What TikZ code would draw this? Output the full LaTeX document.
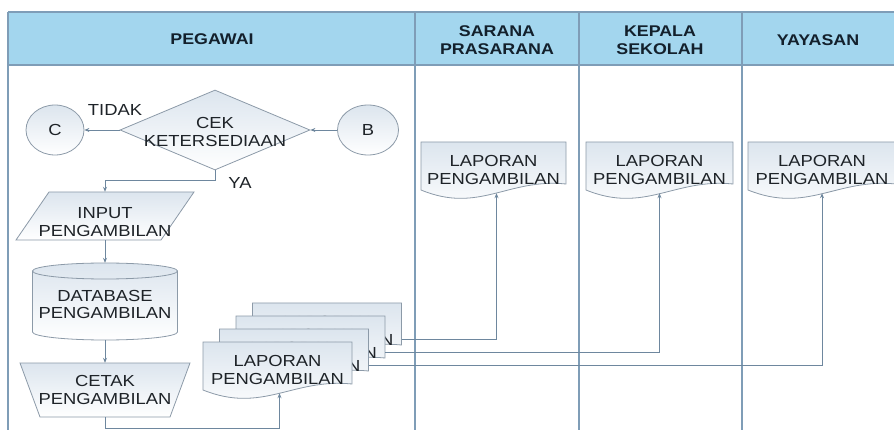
\documentclass[tikz,border=0pt]{standalone}
\usepackage{fontspec}
\setmainfont{Liberation Sans}[FakeStretch=1.15]
\usepackage{tikz}
\usetikzlibrary{shapes.geometric, arrows.meta, calc, positioning}

\definecolor{headblue}{HTML}{A3D6EE}
\definecolor{laneline}{HTML}{7F9DB7}
\definecolor{shapeline}{HTML}{8C9AA8}
\definecolor{shapetop}{HTML}{DCE5EE}
\definecolor{flowline}{HTML}{6E879E}
\definecolor{txt}{HTML}{1E2328}
\definecolor{headtxt}{HTML}{13202C}

% document symbol: name, top left corner, width
\newcommand{\laporandoc}[3]{%
  \path[doc shape,shift={(#2)}] (0,0) -- (#3,0) -- (#3,42)
    .. controls (0.6*#3,36) and (0.4*#3,72) .. (0,48) -- cycle;
  \node[holder,minimum width=#3pt,minimum height=48pt,
        label={[body text,yshift=-4pt]center:LAPORAN\\PENGAMBILAN}]
    (#1) at ($(#2)+(0.5*#3,24)$) {};
}

\begin{document}
\begin{tikzpicture}[x=1pt,y=-1pt,
                    lane head/.style={font=\fontsize{15.5}{18.5}\selectfont\bfseries,text=headtxt,align=center},
                    body text/.style={font=\fontsize{16}{17.5}\selectfont,text=txt,align=center},
                    shape box/.style={draw=shapeline,line width=0.8pt,top color=shapetop,bottom color=white},
                    doc shape/.style={shape box},
                    holder/.style={rectangle,inner sep=0pt},
                    connector/.style={ellipse,shape box,body text,inner sep=0pt,minimum width=58pt,minimum height=50pt},
                    decision/.style={diamond,shape box,inner sep=0pt,minimum width=190pt,minimum height=80pt},
                    flow/.style={draw=flowline,line width=0.9pt,-{Stealth[length=5pt,width=4pt]}},
                    lane/.style={draw=laneline,line width=1.3pt}]

  \useasboundingbox (0,0) rectangle (894,430);

  % swimlanes
  \fill[headblue] (8,12) rectangle (900,65);
  \draw[lane] (8,12) -- (900,12);
  \draw[lane,line width=1.6pt] (8,65) -- (900,65);
  \draw[lane] (8,12) -- (8,440);
  \draw[lane] (415,12) -- (415,440);
  \draw[lane] (579,12) -- (579,440);
  \draw[lane] (742,12) -- (742,440);

  \node[lane head] (pegawai) at (212,39) {PEGAWAI};
  \node[lane head] (sarana) at (497,40) {SARANA\\PRASARANA};
  \node[lane head] (kepala) at (660,40) {KEPALA\\SEKOLAH};
  \node[lane head] (yayasan) at (818,40) {YAYASAN};

  % pegawai
  \node[connector] (c) at (55,130) {C};
  \node[connector,minimum width=61pt] (b) at (368,130) {B};
  \node[decision,label={[body text,yshift=-2pt]center:CEK\\KETERSEDIAAN}] (cek) at (215,130) {};

  \node[body text] (tidak) at (115,110) {TIDAK};
  \node[body text] (ya) at (240,183) {YA};

  \path[shape box] (49,192) -- (194,192) -- (161,240) -- (16,240) -- cycle;
  \node[holder,minimum width=178pt,minimum height=48pt,
        label={[body text,yshift=-6pt]center:INPUT\\PENGAMBILAN}] (input) at (105,216) {};

  \path[shape box] (32.5,271) -- (32.5,332) arc[start angle=180,end angle=0,x radius=72.5,y radius=8]
    -- (177.5,271) arc[start angle=0,end angle=-180,x radius=72.5,y radius=8] -- cycle;
  \draw[draw=shapeline,line width=0.8pt] (32.5,271) arc[start angle=180,end angle=0,x radius=72.5,y radius=8];
  \node[holder,minimum width=145pt,minimum height=77pt,
        label={[body text,yshift=-3pt]center:DATABASE\\PENGAMBILAN}] (db) at (105,301.5) {};

  \path[shape box] (20,363) -- (190,363) -- (170,417) -- (40,417) -- cycle;
  \node[holder,minimum width=170pt,minimum height=54pt,
        label={[body text]center:CETAK\\PENGAMBILAN}] (cetak) at (105,390) {};

  \laporandoc{lap3}{252.5,303}{149}
  \laporandoc{lap2}{236,316}{149}
  \laporandoc{lap1}{219.5,329}{149}
  \laporandoc{lap0}{203,342}{149}

  % other lanes
  \laporandoc{lapsar}{421,142}{145}
  \laporandoc{lapkep}{586,142}{147}
  \laporandoc{lapyay}{748,142}{148}

  \path[flow]
  (b) edge (cek)
  (cek) edge (c)
  (input) edge (db)
  (db) edge (cetak);

  \draw[flow] (cek.south) -- ++(0,10) -| (input.north);
  \draw[flow] (cetak.south) -- ++(0,11) -| ([xshift=2pt,yshift=-3pt]lap0.south);

  \draw[flow] ([yshift=-12pt]lap3.east) -| ([xshift=3pt,yshift=-3pt]lapsar.south);
  \draw[flow] ([yshift=-12pt]lap2.east) -| ([yshift=-3pt]lapkep.south);
  \draw[flow] ([yshift=-12pt]lap1.east) -| ([yshift=-3pt]lapyay.south);

\end{tikzpicture}
\end{document}
